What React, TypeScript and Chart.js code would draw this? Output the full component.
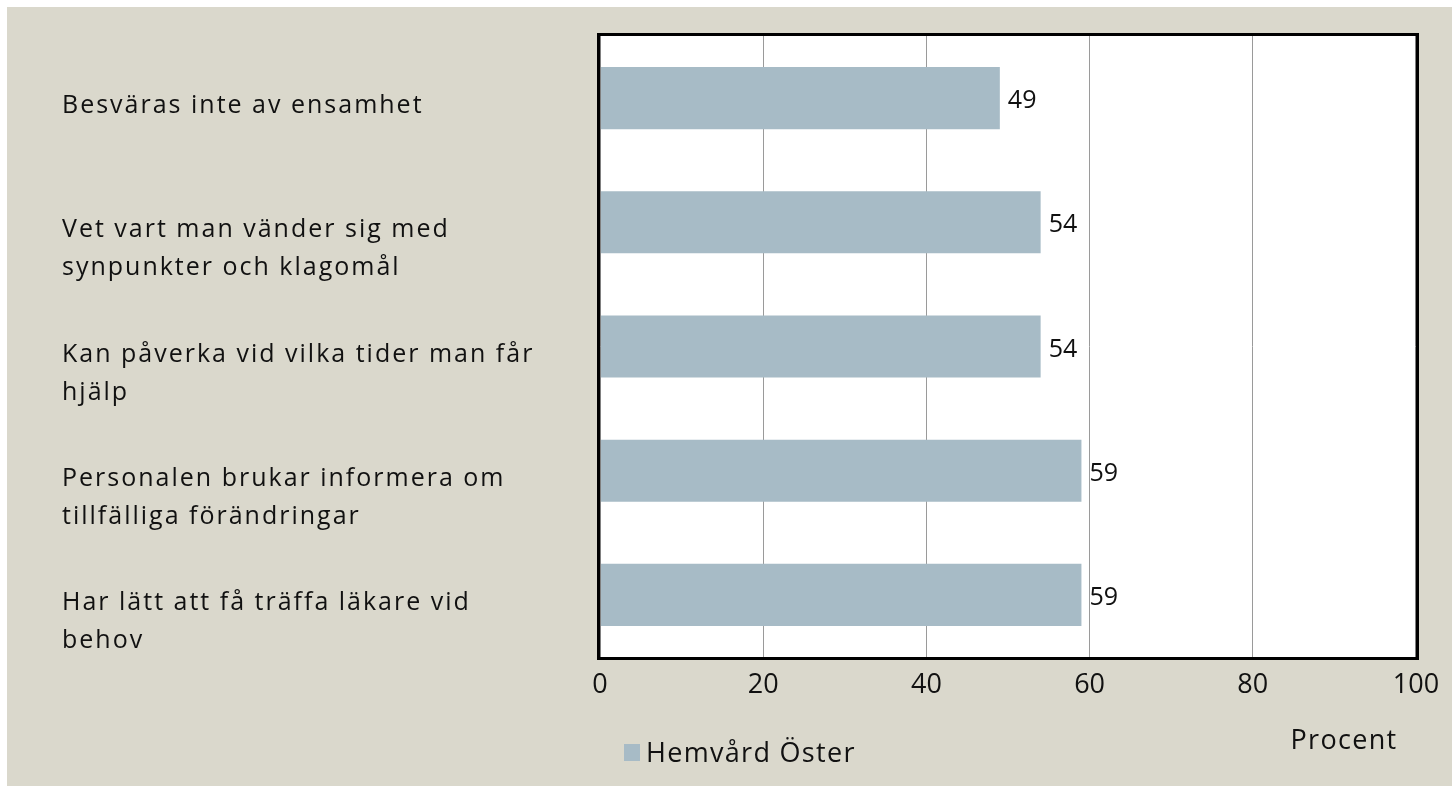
import React, { useEffect, useRef } from "react";
import { Chart, registerables } from "chart.js";

Chart.register(...registerables);

const categories: string[][] = [
  ["Besväras inte av ensamhet"],
  ["Vet vart man vänder sig med", "synpunkter och klagomål"],
  ["Kan påverka vid vilka tider man får", "hjälp"],
  ["Personalen brukar informera om", "tillfälliga förändringar"],
  ["Har lätt att få träffa läkare vid", "behov"],
];
const values: number[] = [49, 54, 54, 59, 59];
const xTicks: number[] = [0, 20, 40, 60, 80, 100];
const seriesName = "Hemvård Öster";
const axisTitle = "Procent";

const FONT = "'Open Sans', 'DejaVu Sans', sans-serif";
const BEIGE = "#dad8cc";
const BAR = "#a7bbc6";
const TEXT = "#111111";

const W = 1452;
const H = 787;

const decorPlugin = {
  id: "decor",
  beforeDraw(chart: any) {
    const { ctx, chartArea } = chart;
    ctx.save();
    ctx.fillStyle = BEIGE;
    ctx.fillRect(7, 7, W - 7, H - 8);
    ctx.fillStyle = "#ffffff";
    ctx.fillRect(chartArea.left, chartArea.top, chartArea.right - chartArea.left, chartArea.bottom - chartArea.top);
    ctx.restore();
  },
  afterDatasetsDraw(chart: any) {
    const { ctx, chartArea } = chart;
    const { left, top, right, bottom } = chartArea;
    ctx.save();
    // data labels
    const meta = chart.getDatasetMeta(0);
    ctx.font = `25px ${FONT}`;
    ctx.fillStyle = TEXT;
    ctx.textAlign = "left";
    ctx.textBaseline = "middle";
    meta.data.forEach((bar: any, i: number) => {
      ctx.fillText(String(chart.data.datasets[0].data[i]), bar.x + 8, bar.y + 3);
    });
    // plot border
    ctx.strokeStyle = "#000000";
    ctx.lineWidth = 3;
    ctx.strokeRect(left - 1.5, top - 1.5, right - left + 3, bottom - top + 3);
    ctx.strokeStyle = "#808080";
    ctx.lineWidth = 1;
    ctx.beginPath();
    ctx.moveTo(left + 0.5, top);
    ctx.lineTo(left + 0.5, bottom);
    ctx.moveTo(right - 0.5, top);
    ctx.lineTo(right - 0.5, bottom);
    ctx.stroke();

    // category labels
    const yScale = chart.scales.y;
    ctx.font = `25px ${FONT}`;
    (ctx as any).letterSpacing = "2px";
    ctx.fillStyle = TEXT;
    ctx.textAlign = "left";
    ctx.textBaseline = "middle";
    categories.forEach((lines, i) => {
      const y = yScale.getPixelForValue(i);
      lines.forEach((line, j) => {
        ctx.fillText(line, 62, y + 8 + j * 38);
      });
    });

    // legend
    const ds = chart.data.datasets[0];
    ctx.fillStyle = ds.backgroundColor;
    ctx.fillRect(624, 744, 16, 17);
    ctx.fillStyle = TEXT;
    ctx.font = `27px ${FONT}`;
    (ctx as any).letterSpacing = "1.3px";
    ctx.textBaseline = "middle";
    ctx.fillText(ds.label, 646, 754);

    // axis title
    ctx.textAlign = "center";
    ctx.fillText(axisTitle, 1344, 741);
    (ctx as any).letterSpacing = "0px";
    ctx.restore();
  },
};

export default function App() {
  const ref = useRef<HTMLCanvasElement | null>(null);

  useEffect(() => {
    if (!ref.current) return;
    const chart = new Chart(ref.current, {
      type: "bar",
      data: {
        labels: categories.map((c) => c.join(" ")),
        datasets: [
          {
            label: seriesName,
            data: values,
            backgroundColor: BAR,
            borderWidth: 0,
            barPercentage: 0.5,
            categoryPercentage: 1,
          },
        ],
      },
      options: {
        indexAxis: "y",
        responsive: false,
        animation: false,
        layout: { padding: { left: 600, top: 36, right: 36, bottom: 80 } },
        plugins: {
          legend: { display: false },
          tooltip: { enabled: false },
        },
        scales: {
          x: {
            min: xTicks[0],
            max: xTicks[xTicks.length - 1],
            afterBuildTicks: (scale: any) => {
              scale.ticks = xTicks.map((v) => ({ value: v }));
            },
            afterFit: (scale: any) => {
              scale.height = 50;
            },
            ticks: {
              color: TEXT,
              font: { family: FONT, size: 27 },
              padding: 12,
              maxRotation: 0,
            },
            grid: { color: "#9a9a9a", lineWidth: 1, drawTicks: false },
            border: { display: false },
          },
          y: {
            display: false,
          },
        },
      },
      plugins: [decorPlugin],
    });
    return () => chart.destroy();
  }, []);

  return (
    <div style={{ position: "absolute", left: 0, top: 0, width: W, height: H }}>
      <canvas ref={ref} width={W} height={H} style={{ display: "block", width: W, height: H }} />
    </div>
  );
}
